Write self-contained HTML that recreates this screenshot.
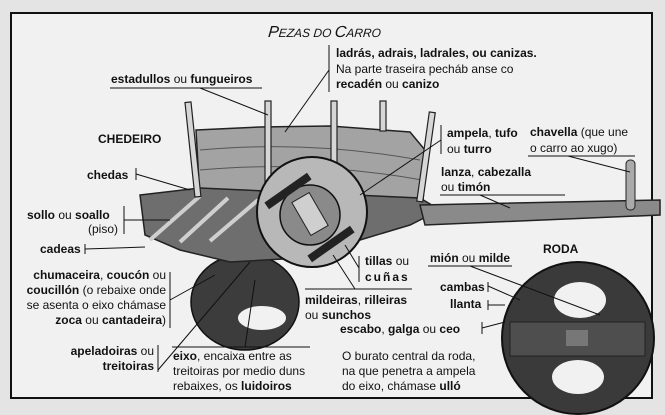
<!DOCTYPE html>
<html><head><meta charset="utf-8"><style>
html,body{margin:0;padding:0;background:#e6e6e6;}
svg{display:block}
text{font-family:"Liberation Sans",Arial,sans-serif;font-size:12px;fill:#111}
.b{font-weight:bold}
</style></head><body>
<svg width="665" height="415" viewBox="0 0 665 415">
<rect x="0" y="0" width="665" height="415" fill="#e4e4e4"/>
<rect x="11" y="13" width="641" height="385" fill="#f1f1f1" stroke="#111" stroke-width="2"/>
<text x="268" y="37" style="font-style:italic;font-size:16px" transform="skewX(-5) translate(3,0)">P<tspan style="font-size:12px">EZAS DO </tspan>C<tspan style="font-size:12px">ARRO</tspan></text>

<!-- rear wheel -->
<ellipse cx="245" cy="302" rx="54" ry="48" fill="#3c3c3c" stroke="#111" stroke-width="1.5"/>
<ellipse cx="262" cy="318" rx="24" ry="12" fill="#f1f1f1"/>
<!-- cart body -->
<polygon points="196,130 260,127 330,126 410,132 425,150 423,205 200,200" fill="#a3a3a3" stroke="#222" stroke-width="1.5"/>
<path d="M200,150 Q310,140 420,160 M200,170 Q310,160 422,180" stroke="#555" fill="none"/>
<polygon points="140,195 200,188 420,198 440,210 410,225 360,240 300,258 230,262 180,250 145,235" fill="#6e6e6e" stroke="#222" stroke-width="1.5"/>
<path d="M150,240 L200,196 M180,242 L228,198 M210,241 L258,200" stroke="#cfcfcf" stroke-width="4"/>
<!-- tongue -->
<polygon points="420,205 660,200 660,215 425,225" fill="#8a8a8a" stroke="#222" stroke-width="1.5"/>
<rect x="626" y="160" width="9" height="50" rx="4" fill="#aaa" stroke="#222"/>
<!-- stakes -->
<g fill="#d6d6d6" stroke="#222" stroke-width="1.2">
<rect x="190" y="102" width="6" height="95" transform="rotate(-6 193 150)"/>
<rect x="265" y="101" width="6" height="95"/>
<rect x="331" y="101" width="6" height="70"/>
<rect x="380" y="101" width="6" height="30"/>
<rect x="424" y="112" width="6" height="90" transform="rotate(8 427 150)"/>
</g>
<!-- front wheel -->
<circle cx="312" cy="212" r="55" fill="#b8b8b8" stroke="#111" stroke-width="2"/>
<circle cx="310" cy="215" r="30" fill="#8a8a8a" stroke="#111" stroke-width="1.5"/>
<rect x="300" y="195" width="20" height="38" fill="#cfcfcf" stroke="#222" transform="rotate(-30 310 214)"/>
<rect x="262" y="187" width="52" height="8" fill="#222" transform="rotate(-35 288 191)"/>
<rect x="305" y="240" width="52" height="8" fill="#222" transform="rotate(-35 331 244)"/>
<!-- big wheel -->
<ellipse cx="578" cy="338" rx="76" ry="76" fill="#3a3a3a" stroke="#111" stroke-width="2"/>
<ellipse cx="580" cy="300" rx="26" ry="18" fill="#f1f1f1"/>
<ellipse cx="578" cy="377" rx="26" ry="17" fill="#f1f1f1"/>
<rect x="510" y="322" width="135" height="34" fill="#4e4e4e" stroke="#222"/>
<rect x="566" y="330" width="22" height="16" fill="#777"/>

<!-- leader lines -->
<g stroke="#111" stroke-width="1" fill="none">
<line x1="329" y1="45" x2="329" y2="92"/><line x1="329" y1="70" x2="285" y2="132"/>
<line x1="110" y1="88" x2="262" y2="88"/><line x1="200" y1="88" x2="268" y2="115"/>
<line x1="136" y1="168" x2="136" y2="180"/><line x1="136" y1="174" x2="190" y2="190"/>
<line x1="124" y1="206" x2="124" y2="234"/><line x1="124" y1="220" x2="170" y2="220"/>
<line x1="85" y1="244" x2="85" y2="254"/><line x1="85" y1="249" x2="145" y2="247"/>
<line x1="170" y1="272" x2="170" y2="328"/><line x1="170" y1="300" x2="215" y2="275"/>
<line x1="158" y1="345" x2="158" y2="372"/><line x1="158" y1="370" x2="250" y2="262"/>
<line x1="172" y1="347" x2="310" y2="347"/><line x1="245" y1="347" x2="255" y2="280"/>
<line x1="359" y1="256" x2="359" y2="282"/><line x1="359" y1="268" x2="345" y2="245"/>
<line x1="305" y1="289" x2="412" y2="289"/><line x1="355" y1="289" x2="333" y2="255"/>
<line x1="441" y1="125" x2="441" y2="154"/><line x1="441" y1="140" x2="360" y2="195"/>
<line x1="528" y1="156" x2="635" y2="156"/><line x1="568" y1="156" x2="630" y2="172"/>
<line x1="440" y1="195" x2="565" y2="195"/><line x1="480" y1="195" x2="510" y2="208"/>
<line x1="428" y1="266" x2="512" y2="266"/><line x1="470" y1="266" x2="600" y2="315"/>
<line x1="488" y1="282" x2="488" y2="292"/><line x1="488" y1="286" x2="520" y2="300"/>
<line x1="488" y1="300" x2="488" y2="310"/><line x1="488" y1="305" x2="505" y2="305"/>
<line x1="482" y1="322" x2="482" y2="334"/><line x1="482" y1="328" x2="505" y2="322"/>
</g>

<text x="336" y="57" class="b">ladrás, adrais, ladrales, ou canizas.</text>
<text x="336" y="73">Na parte traseira pecháb anse co</text>
<text x="336" y="88"><tspan class="b">recadén</tspan> ou <tspan class="b">canizo</tspan></text>
<text x="111" y="83" class="b">estadullos <tspan font-weight="normal">ou</tspan> fungueiros</text>
<text x="98" y="143" class="b">CHEDEIRO</text>
<text x="87" y="179" class="b">chedas</text>
<text x="27" y="219"><tspan class="b">sollo</tspan> ou <tspan class="b">soallo</tspan></text>
<text x="88" y="233">(piso)</text>
<text x="40" y="253" class="b">cadeas</text>
<g text-anchor="end">
<text x="166" y="279"><tspan class="b">chumaceira</tspan>, <tspan class="b">coucón</tspan> ou</text>
<text x="166" y="294"><tspan class="b">coucillón</tspan> (o rebaixe onde</text>
<text x="166" y="309">se asenta o eixo chámase</text>
<text x="166" y="324"><tspan class="b">zoca</tspan> ou <tspan class="b">cantadeira</tspan>)</text>
<text x="154" y="355"><tspan class="b">apeladoiras</tspan> ou</text>
<text x="154" y="370" class="b">treitoiras</text>
</g>
<text x="173" y="360"><tspan class="b">eixo</tspan>, encaixa entre as</text>
<text x="173" y="375">treitoiras por medio duns</text>
<text x="173" y="390">rebaixes, os <tspan class="b">luidoiros</tspan></text>
<text x="365" y="265"><tspan class="b">tillas</tspan> ou</text>
<text x="365" y="281" class="b" letter-spacing="2">cuñas</text>
<text x="305" y="304"><tspan class="b">mildeiras</tspan>, <tspan class="b">rilleiras</tspan></text>
<text x="305" y="319">ou <tspan class="b">sunchos</tspan></text>
<text x="447" y="137"><tspan class="b">ampela</tspan>, <tspan class="b">tufo</tspan></text>
<text x="447" y="153">ou <tspan class="b">turro</tspan></text>
<text x="530" y="136"><tspan class="b">chavella</tspan> (que une</text>
<text x="530" y="152">o carro ao xugo)</text>
<text x="441" y="176"><tspan class="b">lanza</tspan>, <tspan class="b">cabezalla</tspan></text>
<text x="441" y="191">ou <tspan class="b">timón</tspan></text>
<text x="543" y="253" class="b">RODA</text>
<text x="430" y="262"><tspan class="b">mión</tspan> ou <tspan class="b">milde</tspan></text>
<text x="440" y="291" class="b">cambas</text>
<text x="450" y="308" class="b">llanta</text>
<text x="340" y="333"><tspan class="b">escabo</tspan>, <tspan class="b">galga</tspan> ou <tspan class="b">ceo</tspan></text>
<text x="342" y="360">O burato central da roda,</text>
<text x="342" y="375">na que penetra a ampela</text>
<text x="342" y="390">do eixo, chámase <tspan class="b">ulló</tspan></text>
</svg>
</body></html>
